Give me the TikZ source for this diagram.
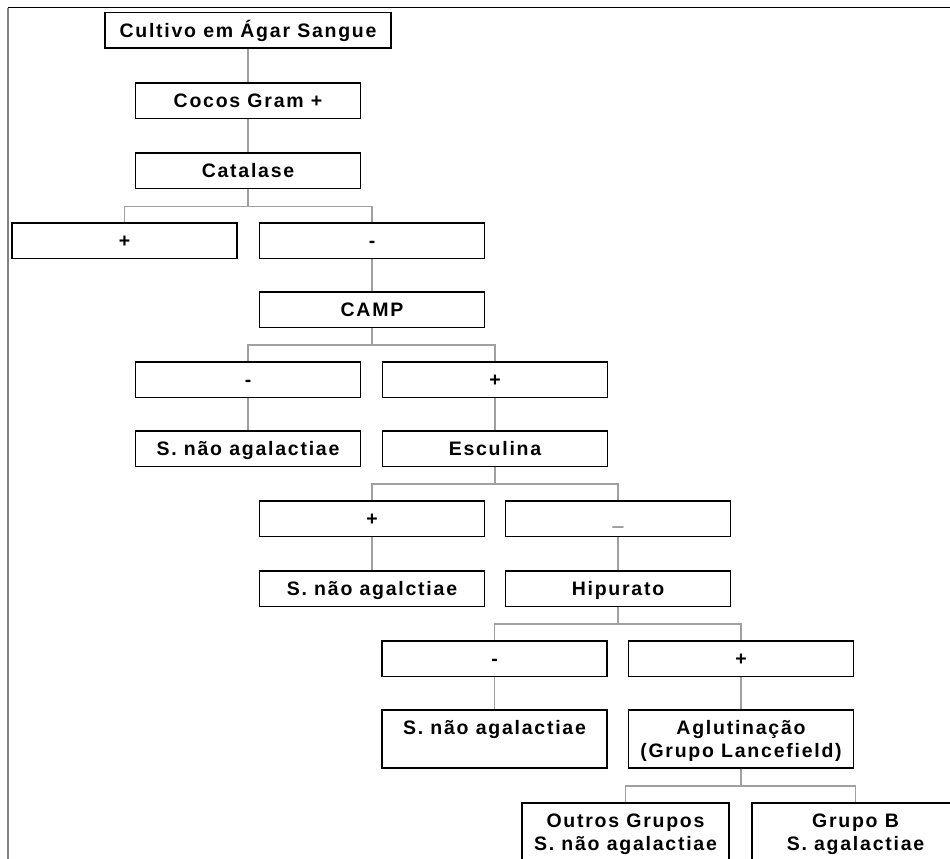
\documentclass[tikz,border=0pt]{standalone}
\usepackage{fontspec}
\newfontfamily\boxfont{Liberation Sans}[LetterSpace=9]
\definecolor{linkgray}{RGB}{160,160,160}
\definecolor{framegray}{RGB}{128,128,128}
% fixed strut: 18pt above, 4pt below the baseline
\newcommand\bxs{\rule[-4pt]{0pt}{22pt}}
\tikzset{
  box/.style={draw=black, line width=1.5pt, fill=white, minimum width=225pt,
    minimum height=35.5pt, inner sep=0pt, anchor=north, align=center,
    font=\boxfont\bfseries\fontsize{19.5}{22}\selectfont},
  tallbox/.style={box, minimum height=58pt},
  link/.style={draw=linkgray, line width=1.2pt},
}
\begin{document}
\begin{tikzpicture}[x=1pt, y=-1pt]
\useasboundingbox (0,0) rectangle (950,859);
\clip (0,0) rectangle (950,859);

% frame
\draw[black, line width=1pt] (8,8) -- (950,8);
\draw[framegray, line width=1.3pt] (8,8) -- (8,859);

% boxes
\node[box, minimum width=286pt] (cultivo) at (248,12) {\bxs Cultivo em Ágar Sangue};
\node[box] (cocos)    at (248,82)  {\bxs Cocos Gram +};
\node[box] (catalase) at (248,152) {\bxs Catalase};
\node[box] (catpos)   at (124.5,222) {\bxs +};
\node[box] (catneg)   at (372,222) {\bxs -};
\node[box] (camp)     at (372,291) {\bxs CAMP};
\node[box] (campneg)  at (248,361) {\bxs -};
\node[box] (camppos)  at (495,361) {\bxs +};
\node[box] (resa)     at (248,430) {\bxs S. não agalactiae};
\node[box] (esculina) at (495,430) {\bxs Esculina};
\node[box] (escpos)   at (372,500) {\bxs +};
\node[box] (escneg)   at (618,500) {\bxs \_};
\node[box] (resb)     at (372,570) {\bxs S. não agalctiae};
\node[box] (hipurato) at (618,570) {\bxs Hipurato};
\node[box] (hipneg)   at (494.5,640) {\bxs -};
\node[box] (hippos)   at (741,640) {\bxs +};
\node[tallbox] (resc) at (494.5,709) {\bxs S. não agalactiae\\\bxs};
\node[tallbox] (aglut) at (741,709) {\bxs Aglutinação\\\bxs (Grupo Lancefield)};
\node[tallbox, minimum width=207pt] (outros) at (625.5,802) {\bxs Outros Grupos\\\bxs S. não agalactiae};
\node[tallbox, minimum width=207pt] (grupob) at (855.5,802) {\bxs Grupo B\\\bxs S. agalactiae};

% connectors
\draw[link] (cultivo.south) -- (cocos.north);
\draw[link] (cocos.south) -- (catalase.north);
\draw[link] (catalase.south) -- ++(0,17.5) -| (catpos.north);
\draw[link] (catalase.south) -- ++(0,17.5) -| (catneg.north);
\draw[link] (catneg.south) -- (camp.north);
\draw[link] (camp.south) -- ++(0,17) -| (campneg.north);
\draw[link] (camp.south) -- ++(0,17) -| (camppos.north);
\draw[link] (campneg.south) -- (resa.north);
\draw[link] (camppos.south) -- (esculina.north);
\draw[link] (esculina.south) -- ++(0,17) -| (escpos.north);
\draw[link] (esculina.south) -- ++(0,17) -| (escneg.north);
\draw[link] (escpos.south) -- (resb.north);
\draw[link] (escneg.south) -- (hipurato.north);
\draw[link] (hipurato.south) -- ++(0,17) -| (hipneg.north);
\draw[link] (hipurato.south) -- ++(0,17) -| (hippos.north);
\draw[link] (hipneg.south) -- (resc.north);
\draw[link] (hippos.south) -- (aglut.north);
\draw[link] (aglut.south) -- ++(0,17.5) -| (outros.north);
\draw[link] (aglut.south) -- ++(0,17.5) -| (grupob.north);
\end{tikzpicture}
\end{document}
